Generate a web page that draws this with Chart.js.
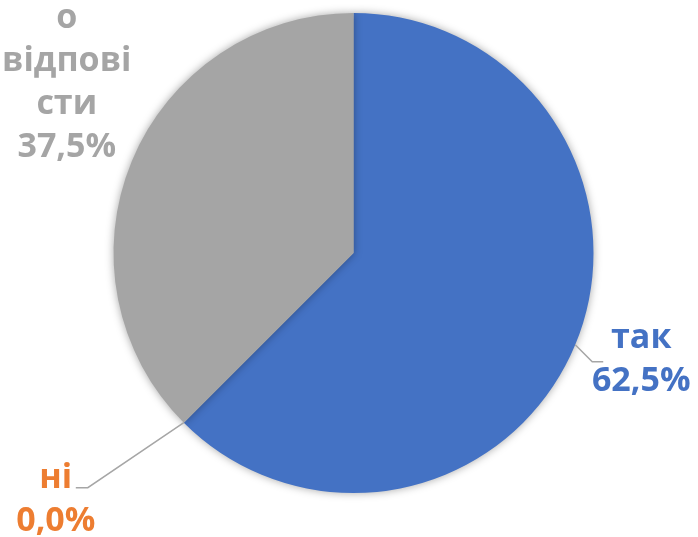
<!DOCTYPE html>
<html>
<head>
<meta charset="utf-8">
<script src="https://cdn.jsdelivr.net/npm/chart.js@4/dist/chart.umd.min.js"></script>
<style>
  html, body { margin: 0; padding: 0; background: #fff; }
  #wrap { width: 698px; height: 537px; }
</style>
</head>
<body>
<div id="wrap"><canvas id="pie" width="698" height="537"></canvas></div>
<script>
// дані діаграми
const categories = ["так", "ні", "о відпові сти"];
const values = [62.5, 0.0, 37.5];
const labelLines = [["так"], ["ні"], ["о", "відпові", "сти"]];
const colors = ["#4472C4", "#ED7D31", "#A5A5A5"];

// розміщення підписів відносно краю сектора (dx, dy центру блоку), та злам лінії-виноски
const labelPlace = [
    { dx: 66, dy: 15, leader: [[17, 17], [28, 17]] },
    { dx: -128, dy: 77, leader: [[-96, 65], [-108, 65]] },
    { dx: -65, dy: -78, leader: null }
];

const FONT = 'bold 34px "Open Sans", "DejaVu Sans", sans-serif';
const LINE_H = 43;

const shadowPlugin = {
    id: 'pieShadow',
    beforeDatasetsDraw(chart) {
        const ctx = chart.ctx;
        ctx.save();
        ctx.shadowColor = 'rgba(0,0,0,0.35)';
        ctx.shadowBlur = 9;
        ctx.shadowOffsetX = 0;
        ctx.shadowOffsetY = 0;
    },
    afterDatasetsDraw(chart) {
        chart.ctx.restore();
    }
};

const labelPlugin = {
    id: 'pieLabels',
    afterDraw(chart) {
        const ctx = chart.ctx;
        const meta = chart.getDatasetMeta(0);
        meta.data.forEach((arc, i) => {
            const mid = (arc.startAngle + arc.endAngle) / 2;
            const ex = arc.x + Math.cos(mid) * arc.outerRadius;
            const ey = arc.y + Math.sin(mid) * arc.outerRadius;
            const p = labelPlace[i];

            if (p.leader) {
                ctx.save();
                ctx.strokeStyle = '#A6A6A6';
                ctx.lineWidth = 1.5;
                ctx.beginPath();
                ctx.moveTo(ex, ey);
                p.leader.forEach(pt => ctx.lineTo(ex + pt[0], ey + pt[1]));
                ctx.stroke();
                ctx.restore();
            }

            const lines = labelLines[i].concat([values[i].toFixed(1).replace('.', ',') + '%']);
            const cx = ex + p.dx;
            const cy = ey + p.dy;
            const top = cy - (lines.length - 1) * LINE_H / 2;
            ctx.save();
            ctx.font = FONT;
            ctx.fillStyle = colors[i];
            ctx.textAlign = 'center';
            ctx.textBaseline = 'middle';
            lines.forEach((t, k) => ctx.fillText(t, cx, top + k * LINE_H));
            ctx.restore();
        });
    }
};

new Chart(document.getElementById('pie'), {
    type: 'pie',
    data: {
        labels: categories,
        datasets: [{
            data: values,
            backgroundColor: colors,
            borderWidth: 0
        }]
    },
    options: {
        responsive: false,
        animation: false,
        layout: { padding: { top: 13, bottom: 44, left: 113, right: 104 } },
        plugins: {
            legend: { display: false },
            tooltip: { enabled: false }
        }
    },
    plugins: [shadowPlugin, labelPlugin]
});
</script>
</body>
</html>
